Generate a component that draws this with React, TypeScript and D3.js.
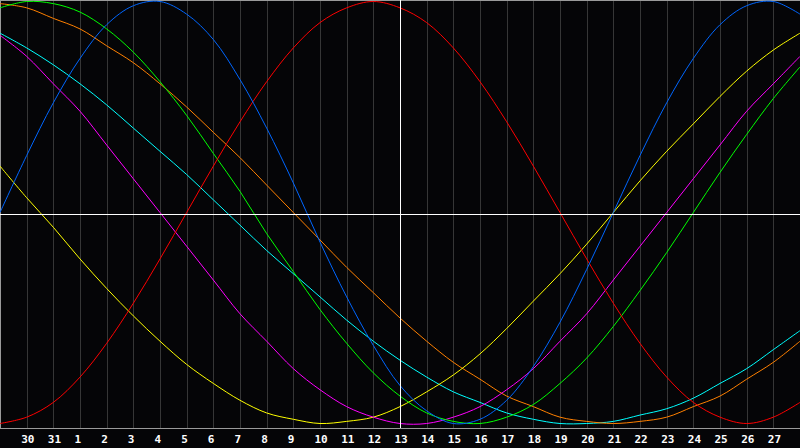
import React from 'react';
import * as d3 from 'd3';

// day labels under the grid lines (grid line 1 .. 29)
const dayLabels = [
  '30', '31', '1', '2', '3', '4', '5', '6', '7', '8', '9', '10', '11', '12', '13',
  '14', '15', '16', '17', '18', '19', '20', '21', '22', '23', '24', '25', '26', '27'
];
const todayIndex = 15;

// one value per day (percent), day index 0..30
const physical = [0, 27, 52, 73, 89, 98, 100, 94, 82, 63, 40, 14, -14, -40, -63, -82, -94, -100, -98, -89, -73, -52, -27, 0, 27, 52, 73, 89, 98, 100, 94];
const emotional = [-100, -97, -90, -78, -62, -43, -22, 0, 22, 43, 62, 78, 90, 97, 100, 97, 90, 78, 62, 43, 22, 0, -22, -43, -62, -78, -90, -97, -100, -97, -90];
const intellectual = [97, 100, 99, 95, 87, 76, 62, 46, 28, 10, -10, -28, -46, -62, -76, -87, -95, -99, -100, -97, -91, -81, -69, -54, -37, -19, 0, 19, 37, 54, 69];
const intuitive = [84, 74, 61, 48, 32, 16, 0, -16, -32, -48, -61, -74, -84, -92, -97, -100, -100, -97, -92, -84, -74, -61, -48, -32, -16, 0, 16, 32, 48, 61, 74];
const aesthetic = [22, 7, -7, -22, -36, -49, -61, -72, -81, -89, -95, -98, -100, -99, -97, -92, -85, -77, -67, -55, -42, -29, -15, 0, 15, 29, 42, 55, 67, 77, 85];
const awareness = [99, 97, 92, 87, 79, 71, 61, 50, 38, 26, 13, 0, -13, -26, -38, -50, -61, -71, -79, -87, -92, -97, -99, -100, -99, -97, -92, -87, -79, -71, -61];
const spiritual = [85, 78, 70, 61, 51, 40, 29, 18, 6, -6, -18, -29, -40, -51, -61, -70, -78, -85, -90, -95, -98, -100, -100, -99, -96, -93, -88, -81, -74, -65, -56];

const series = [
  { name: 'spiritual', values: spiritual, color: '#00ffff' },
  { name: 'awareness', values: awareness, color: '#ff8000' },
  { name: 'aesthetic', values: aesthetic, color: '#ffff00' },
  { name: 'intuitive', values: intuitive, color: '#ff00ff' },
  { name: 'intellectual', values: intellectual, color: '#00ff00' },
  { name: 'emotional', values: emotional, color: '#ff0000' },
  { name: 'physical', values: physical, color: '#0066ff' }
];

const width = 800;
const height = 448;
const plotBottom = 428;

export default function App() {
  const xScale = d3.scaleLinear().domain([0, 30]).range([0, width]);
  const yScale = d3.scaleLinear().domain([-100, 100]).range([423.5, 1.5]);

  const line = d3
    .line<number>()
    .x((d, i) => xScale(i))
    .y(d => yScale(d))
    .curve(d3.curveCatmullRom.alpha(0.5));

  const gridIdx = d3.range(1, 30);
  const midY = Math.round(yScale(0)) + 1.5;
  const todayX = Math.round(xScale(todayIndex)) + 0.5;

  return (
    <div style={{ position: 'fixed', left: 0, top: 0 }}>
      <svg width={width} height={height} style={{ display: 'block', background: '#050507' }}>
        <g shapeRendering="crispEdges">
          {gridIdx.map(i => (
            <line
              key={i}
              x1={Math.round(xScale(i)) + 0.5}
              x2={Math.round(xScale(i)) + 0.5}
              y1={0}
              y2={plotBottom}
              stroke="#363636"
            />
          ))}
          <line x1={0} x2={width} y1={0.5} y2={0.5} stroke="#9a9a9a" />
          <line x1={0.5} x2={0.5} y1={0} y2={plotBottom} stroke="#9a9a9a" />
          <line x1={0} x2={width} y1={plotBottom + 0.5} y2={plotBottom + 0.5} stroke="#9a9a9a" />
        </g>

        <g fill="none" strokeWidth={1}>
          {series.map(s => (
            <path key={s.name} d={line(s.values) || ''} stroke={s.color} />
          ))}
        </g>

        <g shapeRendering="crispEdges" stroke="#ffffff">
          <line x1={0} x2={width} y1={midY} y2={midY} />
          <line x1={todayX} x2={todayX} y1={0} y2={plotBottom} />
        </g>

        <g fill="#ffffff" fontFamily="'DejaVu Sans Mono', monospace" fontWeight="bold" fontSize={11}>
          {dayLabels.map((lab, j) => (
            <text key={j} x={xScale(j + 1) - 5.5} y={443}>
              {lab}
            </text>
          ))}
        </g>
      </svg>
    </div>
  );
}
